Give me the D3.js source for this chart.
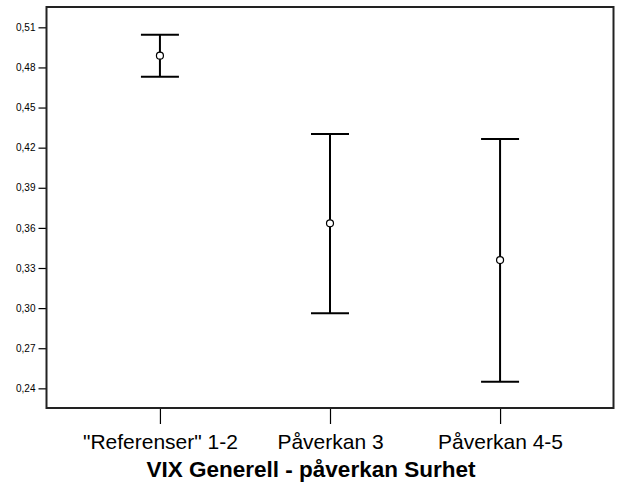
<!DOCTYPE html>
<html lang="sv">
<head>
  <meta charset="UTF-8">
  <title>VIX Generell - påverkan Surhet</title>
  <script src="https://d3js.org/d3.v7.min.js"></script>
  <style>
    body {
      margin: 0;
      background-color: #fff;
      font-family: Arial, "Liberation Sans", sans-serif;
    }
    .axis text {
      fill: #000;
    }
  </style>
</head>
<body>
  <div id="chart"></div>

  <script>
    // data
    const categories = ['"Referenser" 1-2', "Påverkan 3", "Påverkan 4-5"];
    const means = [0.4888, 0.3634, 0.3359];
    const upper = [0.5045, 0.4302, 0.4265];
    const lower = [0.4731, 0.2961, 0.2450];
    const yTicks = [0.24, 0.27, 0.30, 0.33, 0.36, 0.39, 0.42, 0.45, 0.48, 0.51];
    const title = "VIX Generell - påverkan Surhet";

    const width = 621;
    const height = 484;
    const frame = {left: 46.5, right: 613.5, top: 7, bottom: 408};

    const svg = d3.select("#chart")
      .append("svg")
      .attr("width", width)
      .attr("height", height);

    const x = d3.scalePoint()
      .domain(categories)
      .range([frame.left, frame.right])
      .padding(0.667);

    const y = d3.scaleLinear()
      .domain([0.2253, 0.5252])
      .range([frame.bottom, frame.top]);

    // y axis
    const yAxis = svg.append("g")
      .attr("class", "axis")
      .attr("transform", `translate(${frame.left},0)`)
      .call(d3.axisLeft(y)
        .tickValues(yTicks)
        .tickSize(8)
        .tickPadding(3)
        .tickFormat(d => d3.format(".2f")(d).replace(".", ",")));
    yAxis.select(".domain").remove();
    yAxis.selectAll("text").style("font-size", "10px").style("font-family", "Arial");
    yAxis.selectAll("line").attr("stroke", "#000").attr("stroke-width", 1.2);

    // x axis
    const xAxis = svg.append("g")
      .attr("class", "axis")
      .attr("transform", `translate(0,${frame.bottom})`)
      .call(d3.axisBottom(x).tickSize(16).tickPadding(10));
    xAxis.select(".domain").remove();
    xAxis.selectAll("text").style("font-size", "21px").style("font-family", "Arial");
    xAxis.selectAll("line").attr("stroke", "#000").attr("stroke-width", 1.2);

    // frame
    svg.append("rect")
      .attr("x", frame.left)
      .attr("y", frame.top)
      .attr("width", frame.right - frame.left)
      .attr("height", frame.bottom - frame.top)
      .attr("fill", "none")
      .attr("stroke", "#222")
      .attr("stroke-width", 2);

    // error bars
    const bars = svg.append("g")
      .selectAll("g")
      .data(categories)
      .join("g");

    const capHalf = 19;

    bars.append("line")
      .attr("x1", d => x(d)).attr("x2", d => x(d))
      .attr("y1", (d, i) => y(upper[i]))
      .attr("y2", (d, i) => y(lower[i]))
      .attr("stroke", "#000").attr("stroke-width", 2);

    bars.append("line")
      .attr("x1", d => x(d) - capHalf).attr("x2", d => x(d) + capHalf)
      .attr("y1", (d, i) => y(upper[i])).attr("y2", (d, i) => y(upper[i]))
      .attr("stroke", "#000").attr("stroke-width", 2);

    bars.append("line")
      .attr("x1", d => x(d) - capHalf).attr("x2", d => x(d) + capHalf)
      .attr("y1", (d, i) => y(lower[i])).attr("y2", (d, i) => y(lower[i]))
      .attr("stroke", "#000").attr("stroke-width", 2);

    bars.append("circle")
      .attr("cx", d => x(d))
      .attr("cy", (d, i) => y(means[i]))
      .attr("r", 3.5)
      .attr("fill", "#fff")
      .attr("stroke", "#000")
      .attr("stroke-width", 1.2);

    // title
    svg.append("text")
      .attr("x", 311)
      .attr("y", 477)
      .attr("text-anchor", "middle")
      .style("font-family", "Arial")
      .style("font-weight", "bold")
      .style("font-size", "22.5px")
      .text(title);
  </script>
</body>
</html>
